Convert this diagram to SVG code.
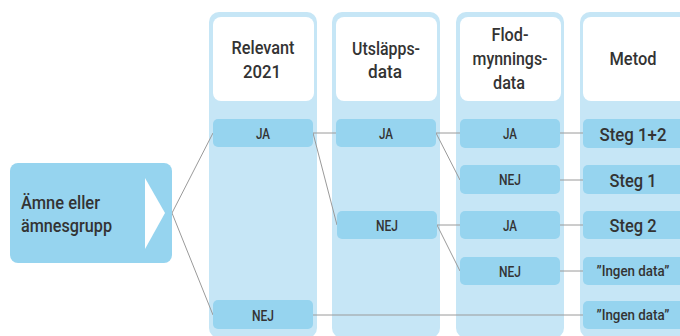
<svg xmlns="http://www.w3.org/2000/svg" width="680" height="336" viewBox="0 0 680 336">
<style>
.col{fill:#c6e6f6}
.hdr{fill:#ffffff}
.item{fill:#96d4ef}
.t{font-family:"Roboto","DejaVu Sans Condensed",sans-serif;font-weight:500;fill:#333;text-anchor:middle}
.h{font-size:19px}
.i{font-size:15px}
.m{font-size:19px}
.s{font-size:15px}
.l{font-size:18px;text-anchor:start}
.c{stroke:#9a9a9a;stroke-width:1;fill:none}
</style>
<rect width="680" height="336" fill="#ffffff"/>
<g id="col-relevant">
<rect class="col" x="209" y="12" width="108" height="326" rx="10"/>
<rect class="hdr" x="213" y="17" width="101" height="84" rx="8"/>
<text class="t h" x="263" y="54" textLength="63" lengthAdjust="spacingAndGlyphs">Relevant</text>
<text class="t h" x="262" y="78" textLength="38" lengthAdjust="spacingAndGlyphs">2021</text>
</g>
<g id="col-utslapp">
<rect class="col" x="332" y="12" width="108" height="326" rx="10"/>
<rect class="hdr" x="336" y="17" width="101" height="84" rx="8"/>
<text class="t h" x="386" y="55" textLength="68" lengthAdjust="spacingAndGlyphs">Utsläpps-</text>
<text class="t h" x="385" y="78" textLength="34" lengthAdjust="spacingAndGlyphs">data</text>
</g>
<g id="col-flod">
<rect class="col" x="456" y="12" width="108" height="326" rx="10"/>
<rect class="hdr" x="460" y="17" width="101" height="84" rx="8"/>
<text class="t h" x="510" y="41" textLength="37" lengthAdjust="spacingAndGlyphs">Flod-</text>
<text class="t h" x="510" y="65" textLength="75" lengthAdjust="spacingAndGlyphs">mynnings-</text>
<text class="t h" x="509" y="89" textLength="32" lengthAdjust="spacingAndGlyphs">data</text>
</g>
<g id="col-metod">
<rect class="col" x="580" y="12" width="120" height="326" rx="10"/>
<rect class="hdr" x="583" y="17" width="110" height="84" rx="8"/>
<text class="t h" x="633" y="65" textLength="47" lengthAdjust="spacingAndGlyphs">Metod</text>
</g>
<g id="connectors">
<line class="c" x1="172" y1="213" x2="213" y2="133"/>
<line class="c" x1="172" y1="213" x2="213" y2="315"/>
<line class="c" x1="313" y1="133" x2="336" y2="133"/>
<line class="c" x1="313" y1="133" x2="337" y2="225"/>
<line class="c" x1="436" y1="133" x2="460" y2="133"/>
<line class="c" x1="436" y1="133" x2="460" y2="180"/>
<line class="c" x1="437" y1="225" x2="460" y2="225"/>
<line class="c" x1="437" y1="225" x2="460" y2="271"/>
<line class="c" x1="560" y1="133" x2="583" y2="133"/>
<line class="c" x1="560" y1="180" x2="583" y2="180"/>
<line class="c" x1="560" y1="225" x2="583" y2="225"/>
<line class="c" x1="560" y1="271" x2="583" y2="271"/>
<line class="c" x1="313" y1="315" x2="583" y2="315"/>
</g>
<g id="start">
<rect class="item" x="10" y="163" width="162" height="100" rx="8"/>
<polygon points="145,178 165,213 145,249" fill="#ffffff"/>
<text class="t l" x="21" y="209" textLength="79" lengthAdjust="spacingAndGlyphs">Ämne eller</text>
<text class="t l" x="21" y="232" textLength="91" lengthAdjust="spacingAndGlyphs">ämnesgrupp</text>
</g>
<g id="r-ja"><rect class="item" x="213" y="119" width="100" height="28" rx="5"/><text class="t i" x="263" y="139" textLength="14" lengthAdjust="spacingAndGlyphs">JA</text></g>
<g id="r-nej"><rect class="item" x="213" y="300" width="100" height="29" rx="5"/><text class="t i" x="263" y="321" textLength="22" lengthAdjust="spacingAndGlyphs">NEJ</text></g>
<g id="u-ja"><rect class="item" x="336" y="119" width="100" height="28" rx="5"/><text class="t i" x="386" y="139" textLength="14" lengthAdjust="spacingAndGlyphs">JA</text></g>
<g id="u-nej"><rect class="item" x="337" y="211" width="100" height="28" rx="5"/><text class="t i" x="387" y="231" textLength="22" lengthAdjust="spacingAndGlyphs">NEJ</text></g>
<g id="f-ja1"><rect class="item" x="460" y="119" width="100" height="29" rx="5"/><text class="t i" x="510" y="139" textLength="14" lengthAdjust="spacingAndGlyphs">JA</text></g>
<g id="f-nej1"><rect class="item" x="460" y="165" width="100" height="29" rx="5"/><text class="t i" x="510" y="185" textLength="22" lengthAdjust="spacingAndGlyphs">NEJ</text></g>
<g id="f-ja2"><rect class="item" x="460" y="211" width="100" height="28" rx="5"/><text class="t i" x="510" y="231" textLength="14" lengthAdjust="spacingAndGlyphs">JA</text></g>
<g id="f-nej2"><rect class="item" x="460" y="257" width="100" height="28" rx="5"/><text class="t i" x="510" y="277" textLength="22" lengthAdjust="spacingAndGlyphs">NEJ</text></g>
<g id="m-steg12"><rect class="item" x="583" y="119" width="110" height="29" rx="5"/><text class="t m" x="633" y="141" textLength="67" lengthAdjust="spacingAndGlyphs">Steg 1+2</text></g>
<g id="m-steg1"><rect class="item" x="583" y="165" width="110" height="29" rx="5"/><text class="t m" x="633" y="187" textLength="47" lengthAdjust="spacingAndGlyphs">Steg 1</text></g>
<g id="m-steg2"><rect class="item" x="583" y="211" width="110" height="28" rx="5"/><text class="t m" x="633" y="232" textLength="47" lengthAdjust="spacingAndGlyphs">Steg 2</text></g>
<g id="m-ingen1"><rect class="item" x="583" y="257" width="110" height="28" rx="5"/><text class="t s" x="633" y="276" textLength="73" lengthAdjust="spacingAndGlyphs">”Ingen data”</text></g>
<g id="m-ingen2"><rect class="item" x="583" y="301" width="110" height="28" rx="5"/><text class="t s" x="633" y="320" textLength="73" lengthAdjust="spacingAndGlyphs">”Ingen data”</text></g>
</svg>
